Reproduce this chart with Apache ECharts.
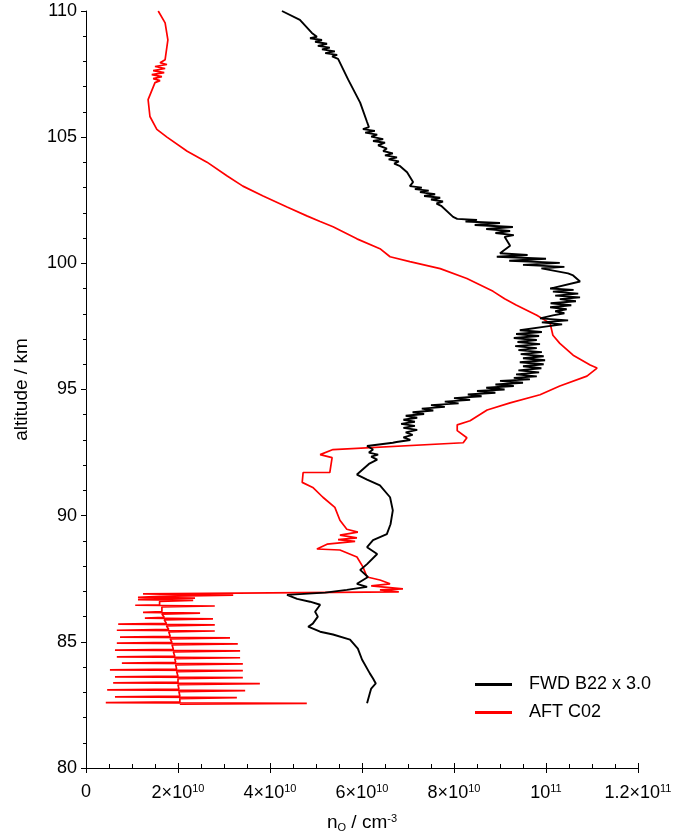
<!DOCTYPE html>
<html>
<head>
<meta charset="utf-8">
<script src="https://cdn.jsdelivr.net/npm/echarts@6/dist/echarts.min.js"></script>
<style>
  html, body { margin: 0; padding: 0; background: #fff; }
  #chart { width: 675px; height: 838px; }
</style>
</head>
<body>
<div id="chart"></div>
<script>
// Atomic oxygen density profiles: [density in 1e10 cm^-3, altitude in km]
const fwdProfile = [
  [4.26,110.0],[4.65,109.65],[4.91,109.13],
  [5.02,108.98],[4.87,108.92],[5.13,108.85],[4.98,108.78],[5.24,108.70],[5.04,108.62],[5.30,108.55],[5.13,108.48],[5.41,108.40],[5.20,108.33],[5.46,108.26],[5.35,108.20],
  [5.48,108.10],[5.70,107.28],[5.96,106.37],[6.11,105.60],
  [6.15,105.40],[6.02,105.32],[6.28,105.25],[6.07,105.18],[6.33,105.10],[6.20,105.02],[6.46,104.92],[6.24,104.85],[6.50,104.78],[6.35,104.68],[6.54,104.55],[6.46,104.45],[6.67,104.36],[6.50,104.28],[6.76,104.20],[6.58,104.12],[6.80,104.04],[6.70,103.95],
  [6.83,103.85],[6.98,103.61],[7.11,103.22],
  [7.04,103.06],[7.30,103.00],[7.15,102.94],[7.45,102.88],[7.26,102.82],[7.59,102.74],[7.35,102.67],[7.70,102.60],[7.50,102.53],[7.76,102.45],[7.62,102.37],[7.72,102.28],
  [7.98,101.84],
  [8.07,101.76],[8.50,101.72],[8.25,101.66],[9.00,101.60],[8.45,101.52],[9.28,101.44],[8.70,101.36],[9.22,101.28],[8.90,101.20],[9.30,101.12],[9.10,101.05],
  [9.22,100.70],
  [9.00,100.40],[9.60,100.33],[8.93,100.26],[10.00,100.18],[9.20,100.10],[10.30,100.02],[9.50,99.94],[10.40,99.86],[9.90,99.80],
  [10.48,99.60],[10.59,99.52],[10.74,99.28],
  [10.09,99.00],[10.60,98.95],[10.15,98.88],[10.70,98.80],[10.20,98.72],[10.74,98.65],[10.30,98.58],[10.65,98.50],[10.10,98.42],[10.55,98.34],[10.09,98.26],[10.45,98.18],[10.20,98.10],[10.40,98.02],[10.15,97.94],
  [9.87,97.82],[10.48,97.74],[9.91,97.66],[10.35,97.58],[10.02,97.50],[10.02,97.43],
  [9.43,97.35],[9.91,97.28],[9.35,97.20],[9.85,97.12],[9.30,97.04],[9.80,96.96],[9.38,96.88],[9.87,96.80],[9.33,96.72],[9.80,96.64],[9.40,96.56],[9.91,96.48],[9.45,96.40],[9.95,96.32],[9.50,96.24],[9.98,96.16],[9.43,96.08],[9.95,96.00],[9.50,95.92],[9.90,95.84],[9.40,95.76],[9.85,95.68],[9.35,95.60],[9.80,95.52],[9.30,95.46],
  [9.65,95.40],[9.00,95.34],[9.50,95.27],[8.90,95.20],[9.30,95.14],[8.70,95.07],[9.10,95.00],[8.50,94.94],[8.90,94.87],[8.30,94.80],[8.60,94.73],[8.00,94.66],[8.35,94.59],[7.80,94.52],[8.10,94.45],[7.50,94.38],[7.80,94.31],[7.30,94.24],[7.55,94.17],[7.10,94.10],[7.35,94.03],[6.95,93.96],[7.20,93.88],[6.90,93.80],[7.15,93.72],[6.85,93.64],[7.15,93.56],[6.90,93.48],[7.20,93.40],[6.95,93.30],[7.10,93.20],[6.90,93.10],[7.05,93.00],[6.75,92.92],[6.67,92.89],
  [6.11,92.76],[6.24,92.62],[6.15,92.50],[6.35,92.42],[6.20,92.34],[6.33,92.22],[6.15,92.05],[5.89,91.63],[6.11,91.43],[6.39,91.20],[6.61,90.73],[6.67,90.21],[6.62,89.66],[6.54,89.27],[6.24,89.03],[6.11,88.75],[6.33,88.48],[6.11,88.08],[5.96,87.85],[6.13,87.57],[5.89,87.30],[6.11,87.18],[5.67,87.06],[5.20,86.95],[4.37,86.86],
  [4.37,86.82],[4.59,86.70],[4.87,86.59],[5.09,86.47],[4.98,86.19],[5.04,86.00],[4.93,85.72],[4.83,85.60],[5.09,85.40],[5.37,85.29],[5.74,85.09],[5.91,84.73],[6.00,84.30],[6.17,83.75],[6.24,83.55],[6.30,83.35],[6.20,83.15],[6.17,82.96],[6.11,82.57]
];

const aftProfile = [
  [1.57,110.0],[1.72,109.53],[1.78,108.86],[1.72,108.07],
  [1.61,107.95],[1.76,107.88],[1.50,107.80],[1.72,107.72],[1.46,107.64],[1.70,107.56],[1.43,107.48],[1.65,107.40],[1.46,107.32],[1.61,107.24],[1.50,107.16],
  [1.35,106.49],[1.39,105.82],[1.54,105.31],[1.76,105.00],[2.20,104.44],[2.63,104.01],[3.07,103.46],[3.41,103.06],[3.85,102.67],[4.37,102.23],[4.80,101.88],[5.09,101.66],
  [5.37,101.45],[5.89,100.97],[6.39,100.58],[6.61,100.26],[7.04,100.07],[7.70,99.79],[8.28,99.40],[8.85,98.89],
  [9.10,98.60],[9.35,98.35],[9.80,97.94],[10.09,97.62],[10.15,97.15],[10.30,96.83],[10.59,96.36],[10.96,95.97],[11.11,95.85],[10.89,95.53],[10.30,95.14],[9.87,94.79],[9.22,94.47],[8.72,94.19],[8.35,93.76],[8.07,93.60],[8.07,93.37],[8.28,93.09],[8.20,92.89],
  [5.37,92.62],[5.09,92.42],[5.35,92.30],[5.30,91.71],[4.72,91.71],[4.70,91.32],[4.93,91.12],[5.15,90.73],[5.41,90.33],[5.52,89.82],[5.67,89.46],[5.91,89.35],
  [5.52,89.23],[5.89,89.12],[5.48,89.05],[5.85,88.98],[5.24,88.87],[5.02,88.68],[5.52,88.64],[5.89,88.36],[6.02,87.97],[6.11,87.57],[6.39,87.45],[6.61,87.30],[6.20,87.22],[6.89,87.10],[6.39,87.06],
  [6.80,86.98],[1.24,86.90],[3.20,86.85],[1.60,86.80],
  [1.13,86.76],[2.37,86.73],[1.60,86.70],
  [1.13,86.67],[2.33,86.64],[1.60,86.60],
  [1.60,86.47],[1.07,86.45],[2.80,86.42],[1.65,86.38],
  [1.65,86.20],[1.24,86.17],[2.48,86.14],[1.65,86.10],
  [1.70,85.97],[1.28,85.94],[2.76,85.91],[1.70,85.87],
  [1.75,85.73],[0.70,85.70],[2.80,85.67],[1.75,85.63],
  [1.80,85.49],[0.67,85.46],[2.80,85.43],[1.80,85.39],
  [1.83,85.22],[0.74,85.19],[3.13,85.16],[1.83,85.12],
  [1.87,84.98],[0.67,84.95],[3.30,84.92],[1.87,84.88],
  [1.90,84.70],[0.63,84.67],[3.35,84.64],[1.90,84.60],
  [1.93,84.43],[0.67,84.40],[3.35,84.37],[1.93,84.33],
  [1.95,84.19],[0.78,84.16],[3.41,84.13],[1.95,84.09],
  [1.97,83.92],[0.52,83.89],[3.41,83.86],[1.97,83.82],
  [2.00,83.64],[0.63,83.61],[3.41,83.58],[2.00,83.54],
  [2.00,83.40],[0.59,83.37],[3.78,83.34],[2.00,83.30],
  [2.02,83.13],[0.46,83.10],[3.46,83.07],[2.02,83.03],
  [2.04,82.85],[0.63,82.82],[3.28,82.79],[2.04,82.75],
  [2.04,82.62],[0.43,82.59],[4.80,82.56],[2.04,82.53]
];

const seriesNames = ['FWD B22 x 3.0', 'AFT C02'];
const seriesColors = ['#000000', '#ff0000'];

// Tick labels on the density axis (values in 1e10 cm^-3)
const xTickLabels = {
  0: '0',
  2: '2×10{sup|10}',
  4: '4×10{sup|10}',
  6: '6×10{sup|10}',
  8: '8×10{sup|10}',
  10: '10{sup|11}',
  12: '1.2×10{sup|11}'
};

const FONT = 'Liberation Sans, Arial, Helvetica, sans-serif';

const chart = echarts.init(document.getElementById('chart'), null, { renderer: 'canvas' });

const baseLabelRich = {
  sup: { fontSize: 11, fontFamily: FONT, color: '#000', padding: [0, 0, 9, 0] },
  sub: { fontSize: 11, fontFamily: FONT, color: '#000', padding: [9, 0, 0, 0] }
};

chart.setOption({
  backgroundColor: '#ffffff',
  animation: false,
  grid: { left: 86, right: 37, top: 11, bottom: 66, containLabel: false },
  legend: {
    data: seriesNames,
    orient: 'vertical',
    left: 470,
    top: 670,
    icon: 'rect',
    itemWidth: 37,
    itemHeight: 3,
    itemGap: 9,
    textStyle: { fontFamily: FONT, fontSize: 18, color: '#000', padding: [0, 0, 0, 12], lineHeight: 19 }
  },
  xAxis: [
    {
      type: 'value', min: 0, max: 12, interval: 2,
      position: 'bottom',
      axisLine: { lineStyle: { color: '#000', width: 1 } },
      axisTick: { show: true, inside: false, length: 5, lineStyle: { color: '#000' } },
      splitLine: { show: false },
      axisLabel: {
        color: '#000', fontFamily: FONT, fontSize: 18, margin: 15,
        formatter: v => xTickLabels[v] !== undefined ? xTickLabels[v] : '',
        rich: baseLabelRich
      },
      name: 'n{sub|O} / cm{sup|-3}',
      nameLocation: 'middle',
      nameGap: 45,
      nameTextStyle: { color: '#000', fontFamily: FONT, fontSize: 19, rich: baseLabelRich }
    },
    {
      type: 'value', min: 0, max: 12, interval: 2,
      position: 'bottom',
      axisLine: { show: false },
      axisTick: { show: true, inside: true, length: 5, lineStyle: { color: '#000' } },
      minorTick: { show: true, splitNumber: 4, length: 4, lineStyle: { color: '#000' } },
      splitLine: { show: false },
      axisLabel: { show: false }
    }
  ],
  yAxis: {
    type: 'value', min: 80, max: 110, interval: 5,
    axisLine: { show: true, lineStyle: { color: '#000', width: 1 } },
    axisTick: { show: true, inside: false, length: 5, lineStyle: { color: '#000' } },
    minorTick: { show: true, splitNumber: 5, length: 3, lineStyle: { color: '#000' } },
    splitLine: { show: false },
    axisLabel: { color: '#000', fontFamily: FONT, fontSize: 18, margin: 9 },
    name: 'altitude / km',
    nameLocation: 'middle',
    nameGap: 55,
    nameTextStyle: { color: '#000', fontFamily: FONT, fontSize: 19 }
  },
  series: [
    {
      name: seriesNames[0], type: 'line', xAxisIndex: 0, data: fwdProfile,
      showSymbol: false, symbol: 'none',
      lineStyle: { color: seriesColors[0], width: 1.9 },
      itemStyle: { color: seriesColors[0] }, z: 3
    },
    {
      name: seriesNames[1], type: 'line', xAxisIndex: 0, data: aftProfile,
      showSymbol: false, symbol: 'none',
      lineStyle: { color: seriesColors[1], width: 1.7 },
      itemStyle: { color: seriesColors[1] }, z: 2
    }
  ]
});
</script>
</body>
</html>
